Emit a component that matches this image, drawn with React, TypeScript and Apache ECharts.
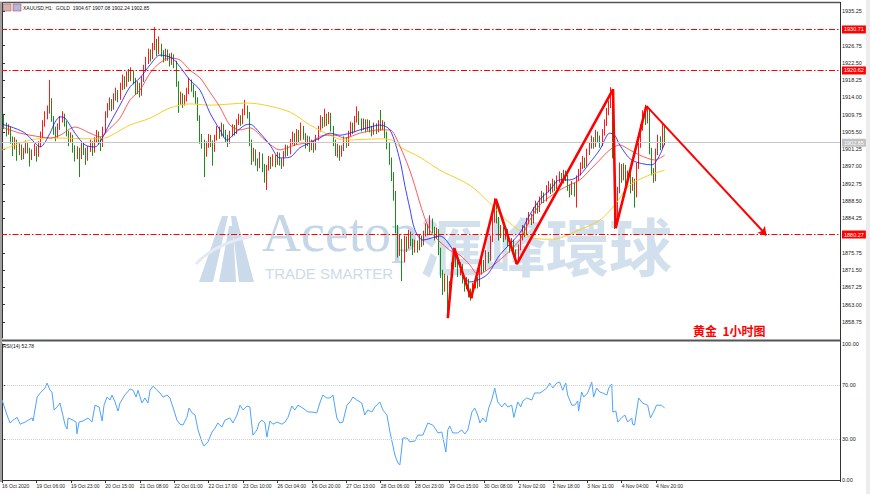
import React, { useEffect, useRef } from 'react';
import * as echarts from 'echarts';

const timeLabels = ['16 Oct 2020', '19 Oct 06:00', '19 Oct 23:00', '20 Oct 15:00', '21 Oct 08:00', '22 Oct 01:00', '22 Oct 17:00', '23 Oct 10:00', '26 Oct 04:00', '26 Oct 20:00', '27 Oct 13:00', '28 Oct 06:00', '28 Oct 23:00', '29 Oct 15:00', '30 Oct 08:00', '2 Nov 02:00', '2 Nov 18:00', '3 Nov 11:00', '4 Nov 04:00', '4 Nov 20:00'];

// [open, close, low, high]
const candles: number[][] = [
[1910.0,1908.5,1907.6,1913.4],[1908.5,1907.0,1906.2,1909.8],[1907.0,1905.5,1904.4,1907.8],[1905.5,1906.2,1904.8,1907.4],[1906.2,1903.8,1902.6,1906.8],
[1903.8,1902.0,1899.6,1904.4],[1902.0,1903.0,1901.2,1904.2],[1903.0,1900.5,1898.4,1903.6],[1900.5,1901.8,1899.8,1902.8],[1901.8,1899.5,1898.6,1902.4],
[1899.5,1900.8,1898.8,1901.6],[1900.8,1902.2,1900.2,1903.4],[1902.2,1901.0,1900.2,1902.8],[1901.0,1899.2,1897.0,1901.6],[1899.2,1900.4,1898.6,1901.2],
[1900.4,1901.5,1899.6,1902.6],[1901.5,1900.0,1898.2,1902.0],[1900.0,1902.5,1899.4,1903.2],[1902.5,1904.8,1901.8,1905.6],[1904.8,1907.5,1904.0,1908.4],
[1907.5,1909.5,1906.8,1910.6],[1909.5,1911.0,1908.6,1912.0],[1911.0,1913.2,1910.0,1918.3],[1913.2,1908.8,1908.0,1913.8],[1908.8,1906.0,1904.8,1909.4],
[1906.0,1904.5,1903.2,1906.8],[1904.5,1906.8,1904.0,1907.6],[1906.8,1908.6,1906.0,1909.4],[1908.6,1909.4,1907.8,1910.6],[1909.4,1907.6,1906.8,1910.0],
[1907.6,1905.2,1904.4,1908.2],[1905.2,1903.4,1902.0,1905.8],[1903.4,1904.2,1902.8,1905.4],[1904.2,1901.5,1900.4,1904.8],[1901.5,1899.8,1898.2,1902.2],
[1899.8,1901.0,1898.8,1902.0],[1901.0,1899.5,1894.4,1901.6],[1899.5,1902.0,1898.8,1902.8],[1902.0,1901.0,1899.8,1903.0],[1901.0,1899.0,1897.4,1901.6],
[1899.0,1901.2,1898.4,1902.0],[1901.2,1902.6,1900.6,1903.6],[1902.6,1901.0,1899.6,1903.2],[1901.0,1903.4,1900.4,1904.2],[1903.4,1905.0,1902.8,1906.0],
[1905.0,1903.6,1902.4,1905.6],[1903.6,1902.4,1900.8,1904.2],[1902.4,1906.0,1901.8,1906.8],[1906.0,1909.8,1905.2,1910.6],[1909.8,1911.6,1909.0,1912.6],
[1911.6,1913.0,1910.8,1914.0],[1913.0,1911.8,1910.6,1913.6],[1911.8,1914.0,1911.0,1915.0],[1914.0,1915.2,1913.2,1916.4],[1915.2,1914.0,1912.8,1915.8],
[1914.0,1916.6,1913.4,1917.6],[1916.6,1918.6,1915.8,1919.6],[1918.6,1917.2,1916.0,1919.2],[1917.2,1919.4,1916.6,1920.4],[1919.4,1918.8,1917.8,1921.0],
[1918.8,1920.0,1918.0,1921.4],[1920.0,1918.2,1917.2,1920.6],[1918.2,1915.8,1914.6,1918.8],[1915.8,1917.0,1914.8,1918.0],[1917.0,1915.0,1914.0,1917.6],
[1915.0,1918.5,1914.4,1919.2],[1918.5,1921.2,1917.8,1922.0],[1921.2,1923.0,1920.4,1924.0],[1923.0,1925.0,1922.2,1926.0],[1925.0,1924.0,1922.8,1925.8],
[1924.0,1926.4,1923.4,1927.4],[1926.4,1927.6,1925.6,1931.3],[1927.6,1925.2,1924.2,1928.4],[1925.2,1926.5,1924.6,1929.0],[1926.5,1925.0,1924.0,1927.2],
[1925.0,1923.8,1922.6,1925.6],[1923.8,1925.0,1923.0,1926.0],[1925.0,1924.2,1923.0,1925.8],[1924.2,1922.8,1921.6,1924.8],[1922.8,1924.0,1922.0,1925.0],
[1924.0,1922.4,1921.2,1924.6],[1922.4,1917.5,1916.6,1923.0],[1917.5,1913.0,1910.2,1918.0],[1913.0,1914.4,1912.2,1915.4],[1914.4,1912.8,1911.4,1915.0],
[1912.8,1913.6,1912.0,1914.6],[1913.6,1915.4,1913.0,1916.4],[1915.4,1917.6,1914.8,1918.8],[1917.6,1916.6,1915.4,1918.4],[1916.6,1915.0,1914.0,1917.2],
[1915.0,1913.5,1912.4,1915.6],[1913.5,1909.0,1908.2,1914.0],[1909.0,1904.0,1902.6,1909.6],[1904.0,1903.0,1901.4,1905.0],[1903.0,1900.2,1894.4,1903.6],
[1900.2,1902.4,1899.4,1903.2],[1902.4,1904.2,1901.6,1905.0],[1904.2,1903.0,1901.8,1904.8],[1903.0,1901.2,1897.2,1903.4],[1901.2,1904.0,1900.6,1904.8],
[1904.0,1906.2,1903.4,1907.0],[1906.2,1905.0,1903.8,1906.8],[1905.0,1906.8,1904.4,1907.8],[1906.8,1905.4,1904.2,1907.4],[1905.4,1904.2,1903.0,1906.0],
[1904.2,1903.2,1901.8,1904.8],[1903.2,1905.0,1902.6,1905.8],[1905.0,1906.6,1904.4,1907.4],[1906.6,1905.6,1904.6,1907.2],[1905.6,1907.8,1905.0,1908.6],
[1907.8,1909.0,1907.2,1910.0],[1909.0,1908.0,1907.0,1909.6],[1908.0,1910.4,1907.4,1911.2],[1910.4,1911.4,1909.6,1913.4],[1911.4,1909.8,1908.8,1912.0],
[1909.8,1903.0,1902.0,1910.4],[1903.0,1899.0,1897.4,1903.6],[1899.0,1900.6,1898.2,1901.6],[1900.6,1898.4,1897.2,1901.2],[1898.4,1897.2,1895.8,1899.0],
[1897.2,1899.6,1896.6,1900.6],[1899.6,1897.0,1895.6,1900.2],[1897.0,1894.8,1893.0,1897.6],[1894.8,1896.6,1891.2,1897.4],[1896.6,1898.8,1896.0,1899.6],
[1898.8,1897.6,1896.4,1899.4],[1897.6,1899.2,1897.0,1900.0],[1899.2,1898.0,1896.8,1899.8],[1898.0,1899.8,1897.4,1900.6],[1899.8,1898.4,1897.2,1900.4],
[1898.4,1897.6,1896.4,1899.0],[1897.6,1900.0,1897.0,1900.8],[1900.0,1901.6,1899.4,1902.4],[1901.6,1900.6,1899.6,1902.2],[1900.6,1903.0,1900.0,1903.8],
[1903.0,1904.6,1902.4,1905.6],[1904.6,1903.0,1902.0,1905.2],[1903.0,1905.4,1902.4,1906.2],[1905.4,1904.0,1903.0,1906.0],[1904.0,1906.4,1903.4,1907.8],
[1906.4,1904.6,1903.6,1907.0],[1904.6,1902.6,1901.4,1905.2],[1902.6,1903.8,1902.0,1904.6],[1903.8,1901.8,1900.6,1904.4],[1901.8,1902.8,1901.0,1903.6],
[1902.8,1901.6,1900.4,1903.4],[1901.6,1904.0,1901.0,1904.8],[1904.0,1906.2,1903.4,1907.0],[1906.2,1908.6,1905.6,1909.6],[1908.6,1907.4,1906.4,1909.2],
[1907.4,1909.4,1906.8,1911.2],[1909.4,1908.0,1907.0,1910.0],[1908.0,1909.6,1907.4,1910.4],[1909.6,1906.4,1905.6,1910.2],[1906.4,1903.0,1902.0,1907.0],
[1903.0,1900.8,1899.6,1903.6],[1900.8,1901.6,1899.2,1902.6],[1901.6,1900.0,1898.4,1902.2],[1900.0,1901.4,1899.4,1902.2],[1901.4,1903.6,1900.8,1904.4],
[1903.6,1902.6,1901.6,1904.2],[1902.6,1905.0,1902.0,1905.8],[1905.0,1907.2,1904.4,1908.0],[1907.2,1906.0,1905.0,1907.8],[1906.0,1908.6,1905.4,1909.4],
[1908.6,1910.0,1907.8,1911.8],[1910.0,1908.2,1907.2,1910.6],[1908.2,1906.6,1905.6,1908.8],[1906.6,1908.0,1906.0,1908.8],[1908.0,1906.4,1905.4,1908.6],
[1906.4,1907.8,1905.8,1908.6],[1907.8,1906.4,1905.4,1908.4],[1906.4,1905.4,1904.4,1907.0],[1905.4,1907.0,1904.8,1907.8],[1907.0,1906.0,1905.0,1907.6],
[1906.0,1907.6,1905.4,1908.4],[1907.6,1906.8,1905.8,1910.9],[1906.8,1907.6,1906.0,1908.4],[1907.6,1905.0,1904.0,1908.0],[1905.0,1902.4,1901.2,1905.6],
[1902.4,1898.6,1897.4,1903.0],[1898.6,1895.0,1893.4,1899.2],[1895.0,1890.5,1888.6,1895.6],[1890.5,1882.0,1880.6,1891.0],[1882.0,1876.5,1874.6,1882.6],
[1876.5,1878.5,1875.0,1880.4],[1878.5,1874.0,1868.8,1879.2],[1874.0,1879.0,1873.4,1880.0],[1879.0,1877.4,1876.0,1879.8],[1877.4,1880.4,1876.8,1881.4],
[1880.4,1878.6,1877.4,1881.0],[1878.6,1876.4,1875.2,1879.2],[1876.4,1878.0,1875.8,1879.0],[1878.0,1877.0,1875.8,1878.8],[1877.0,1879.4,1876.4,1880.2],
[1879.4,1878.2,1877.2,1880.0],[1878.2,1880.4,1877.6,1881.2],[1880.4,1882.0,1879.8,1883.0],[1882.0,1881.0,1880.0,1882.8],[1881.0,1883.6,1880.4,1885.0],
[1883.6,1881.6,1880.6,1884.2],[1881.6,1880.0,1878.8,1882.2],[1880.0,1881.0,1879.2,1882.0],[1881.0,1876.4,1875.2,1881.6],[1876.4,1871.0,1869.6,1877.0],
[1871.0,1867.0,1865.4,1871.6],[1867.0,1869.6,1866.2,1870.6],[1869.6,1863.0,1859.7,1870.2],[1863.0,1868.0,1862.4,1868.8],[1868.0,1872.5,1867.4,1873.4],
[1872.5,1875.8,1871.8,1877.0],[1875.8,1873.4,1872.2,1876.4],[1873.4,1871.0,1869.8,1874.0],[1871.0,1872.4,1870.2,1873.4],[1872.4,1869.4,1868.2,1873.0],
[1869.4,1867.6,1866.2,1870.0],[1867.6,1868.8,1866.8,1869.8],[1868.8,1866.0,1864.8,1869.4],[1866.0,1865.2,1864.0,1867.0],[1865.2,1867.6,1864.6,1868.4],
[1867.6,1869.0,1867.0,1870.0],[1869.0,1868.0,1867.0,1869.8],[1868.0,1871.0,1867.4,1872.0],[1871.0,1873.4,1870.4,1874.4],[1873.4,1872.0,1871.0,1874.0],
[1872.0,1875.4,1871.4,1876.4],[1875.4,1874.4,1873.2,1876.0],[1874.4,1879.0,1873.8,1880.0],[1879.0,1884.0,1878.4,1885.0],[1884.0,1887.6,1883.2,1889.2],
[1887.6,1884.0,1883.0,1888.2],[1884.0,1880.0,1878.8,1884.6],[1880.0,1881.6,1879.4,1882.6],[1881.6,1879.6,1878.4,1882.2],[1879.6,1881.0,1879.0,1882.0],
[1881.0,1878.6,1877.4,1881.6],[1878.6,1877.0,1875.8,1879.2],[1877.0,1878.4,1876.4,1879.4],[1878.4,1876.0,1874.8,1879.0],[1876.0,1874.4,1873.0,1876.6],
[1874.4,1877.0,1873.8,1877.8],[1877.0,1879.4,1876.4,1880.4],[1879.4,1881.6,1878.8,1882.6],[1881.6,1880.6,1879.6,1882.4],[1880.6,1883.4,1880.0,1884.4],
[1883.4,1884.8,1882.8,1885.8],[1884.8,1883.6,1882.6,1885.4],[1883.6,1886.0,1883.0,1887.0],[1886.0,1887.4,1885.4,1888.6],[1887.4,1886.4,1885.4,1888.0],
[1886.4,1888.6,1885.8,1889.6],[1888.6,1890.0,1888.0,1891.0],[1890.0,1889.0,1888.0,1890.6],[1889.0,1891.4,1888.4,1892.4],[1891.4,1892.2,1890.6,1893.4],
[1892.2,1891.2,1890.2,1892.8],[1891.2,1893.0,1890.6,1894.0],[1893.0,1892.0,1891.0,1893.6],[1892.0,1893.8,1891.4,1894.8],[1893.8,1894.8,1893.0,1895.8],
[1894.8,1893.4,1892.4,1895.4],[1893.4,1895.2,1892.8,1896.2],[1895.2,1894.4,1893.4,1896.0],[1894.4,1892.0,1891.0,1895.0],[1892.0,1890.6,1889.4,1892.6],
[1890.6,1892.4,1890.0,1893.4],[1892.4,1890.8,1889.6,1893.0],[1890.8,1894.0,1886.9,1894.8],[1894.0,1895.4,1893.4,1896.4],[1895.4,1897.0,1894.8,1898.0],
[1897.0,1898.6,1896.4,1899.6],[1898.6,1897.6,1896.6,1899.2],[1897.6,1900.4,1897.0,1901.4],[1900.4,1902.0,1899.8,1903.0],[1902.0,1903.6,1901.4,1904.6],
[1903.6,1902.4,1901.4,1904.2],[1902.4,1905.0,1901.8,1906.0],[1905.0,1904.0,1903.0,1905.6],[1904.0,1902.6,1901.6,1904.6],[1902.6,1905.2,1902.0,1906.2],
[1905.2,1907.6,1904.6,1908.6],[1907.6,1910.4,1907.0,1911.4],[1910.4,1912.0,1909.6,1913.2],[1912.0,1914.6,1911.4,1916.5],[1914.6,1900.0,1899.0,1915.4],
[1900.0,1885.0,1881.6,1900.6],[1885.0,1891.0,1884.4,1892.0],[1891.0,1897.0,1890.4,1898.0],[1897.0,1894.2,1893.0,1897.6],[1894.2,1896.8,1893.6,1897.8],
[1896.8,1893.6,1892.4,1897.4],[1893.6,1895.0,1892.8,1896.0],[1895.0,1891.6,1890.4,1895.6],[1891.6,1893.4,1891.0,1894.4],[1893.4,1890.0,1886.9,1894.0],
[1890.0,1897.0,1889.4,1898.0],[1897.0,1902.2,1896.4,1903.2],[1902.2,1906.4,1901.6,1907.4],[1906.4,1909.6,1905.8,1910.8],[1909.6,1908.2,1907.2,1912.2],
[1908.2,1910.4,1907.6,1911.4],[1910.4,1901.0,1900.0,1911.0],[1901.0,1896.0,1894.8,1901.6],[1896.0,1894.0,1893.0,1896.6],[1894.0,1900.4,1893.4,1901.4],
[1900.4,1903.8,1899.8,1904.8],[1903.8,1902.0,1901.0,1904.4],[1902.0,1904.6,1901.4,1907.6],[1904.67,1902.85,1902.24,1907.08]
];

// moving averages: [bar index, price]
const maFast: number[][] = [
[0,1907.4],[6,1906.4],[10.7,1905.2],[15.3,1902.8],[17.7,1901.8],[22.3,1905.2],[24.6,1907.9],[27,1909.2],[29.3,1908.9],[33.9,1905.2],
[38.6,1902.3],[43.2,1901.8],[45.5,1903.0],[50.2,1907.7],[54.8,1912.1],[59.5,1916.6],[64.1,1918.8],[68.8,1922.0],[73.4,1924.4],[79,1923.7],
[82.7,1921.5],[87.3,1918.3],[92,1915.8],[96.6,1910.2],[101.3,1906.0],[104.5,1903.5],[108.2,1905.2],[112.9,1907.2],[115.2,1907.4],[119.9,1905.2],
[124.5,1902.3],[129.2,1899.1],[133.8,1899.3],[138.4,1901.6],[143.1,1902.8],[147.7,1904.0],[152.4,1905.2],[157,1904.7],[161.7,1905.2],[166.3,1906.0],
[171,1906.7],[175.6,1907.2],[180.3,1906.0],[184.9,1898.6],[187.2,1892.4],[189.5,1886.8],[191.9,1881.4],[195.6,1878.9],[203.5,1879.9],[209.5,1876.5],
[217.4,1868.6],[225.3,1870.3],[231.3,1875.2],[240.6,1880.6],[245.3,1885.1],[249.9,1888.8],[254.6,1891.2],[259.2,1893.7],[263.9,1893.7],[268.5,1894.9],
[273.2,1897.9],[277.8,1901.1],[282.5,1905.2],[284.8,1904.7],[287.1,1902.3],[292.7,1898.6],[302,1897.4],[305.7,1899.8],[308,1902.8]
];
const maMid: number[][] = [
[0,1906.7],[8.4,1905.2],[17.7,1904.3],[22.3,1904.0],[27,1904.7],[33.9,1906.7],[40.9,1905.2],[45.5,1904.3],[50.2,1906.4],[54.8,1908.9],
[59.5,1913.4],[64.1,1915.8],[68.8,1920.0],[73.4,1922.5],[78,1923.7],[82.7,1923.2],[87.3,1920.7],[92,1918.8],[96.6,1915.3],[101.3,1911.6],
[105.9,1907.2],[110.6,1906.0],[115.2,1906.5],[122.2,1903.5],[129.2,1901.1],[136.1,1902.3],[143.1,1903.0],[150,1904.7],[154.7,1904.7],[159.3,1904.0],
[166.3,1905.2],[175.6,1906.0],[180.3,1906.0],[182.6,1904.7],[189.5,1896.1],[198.8,1881.4],[208.1,1876.4],[212.8,1875.2],[217.4,1872.8],[221.1,1870.5],
[231.3,1874.0],[240.6,1878.9],[245.3,1883.8],[249.9,1887.5],[259.2,1891.2],[268.5,1893.7],[273.2,1896.1],[277.8,1898.6],[282.5,1901.1],[287.1,1902.3],
[291.7,1901.1],[296.4,1899.8],[303.4,1898.6],[308,1899.8]
];
const maSlow: number[][] = [
[0,1901.1],[13,1903.5],[22.3,1904.0],[45.5,1903.8],[59.5,1907.2],[68.8,1908.9],[78,1911.4],[87.3,1912.4],[96.6,1912.1],[114.3,1912.6],
[122.2,1912.1],[133.8,1910.4],[143.1,1907.2],[152.4,1904.7],[159.3,1903.5],[175.6,1903.8],[181.2,1903.5],[184.9,1901.8],[194.2,1899.3],[203.5,1896.1],
[217.4,1892.4],[226.7,1888.0],[236,1883.1],[246.7,1879.4],[256,1879.1],[267,1881.1],[277.8,1883.8],[284.8,1887.5],[291.7,1892.4],[301,1894.9],
[308,1896.1]
];

// RSI(14): [bar index, value]
const rsi: number[][] = [
[0,58.8],[2.3,47.8],[3.7,41.9],[5.1,44],[7,46],[8.4,41],[10.7,42.6],[13.9,45.6],[14.4,43.4],[16.3,61],[17.7,64],[20,67.6],[20.9,71.3],[22.3,66],
[23.2,64.7],[24.2,51.5],[25.6,53.7],[26.9,56.6],[27.9,50],[29.3,40.4],[30.2,37.5],[30.7,45.6],[33,44],[34.4,42.6],[34.8,34],[35.8,42.6],[37.6,43.4],
[40,45.6],[41.8,42.6],[43.2,55],[45.1,53.7],[46.5,43.4],[47.4,55],[48.8,61],[50.2,58.8],[51.1,62.5],[52.5,57.4],[53.9,50.7],[54.8,56.6],[57.1,62.5],
[59.5,66.9],[60.9,66],[62.3,61],[63.2,66],[65,56.6],[66.4,60.3],[67.8,56.6],[68.8,66],[70.2,69],[72,66],[73.4,64],[74.8,61],[76.7,62.5],[78,60.3],
[79.4,53.7],[81.3,44],[82.7,41],[84.1,40.4],[85.9,46],[86.9,52.9],[88.3,49.3],[89.7,47.8],[91.1,36.8],[92.9,28],[93.8,25],[95.7,28],[97.6,35.3],
[99,38.2],[100.3,41.9],[102.2,39],[103.6,44],[105.9,45.6],[107.3,41.9],[109.2,47.8],[110.6,55],[112,51.5],[113.8,54.4],[115.2,53.7],[116.6,33],
[118.5,36.8],[119.4,41.9],[120.8,44],[122.2,41.9],[123.1,31.6],[124.5,43.4],[125.9,41],[127.8,42.6],[130.1,41],[131.5,42.6],[132.9,46],[134.7,54.4],
[136.1,51.5],[137.5,55],[139.8,52.9],[142.2,50],[144,50],[146.3,49.3],[147.7,56.6],[149.1,62.5],[151,60.3],[152.4,60.3],[153.8,62.5],[155.6,45.6],
[157,41.9],[158.4,42.6],[160.3,55],[161.7,57.4],[163.1,61],[164.9,58.8],[167.2,56.6],[168.6,47.8],[170,51.5],[171.9,50],[173.3,53.7],[175.6,57.4],
[177,51.5],[178.9,47.8],[180.3,35.3],[182.6,18.4],[184,12.5],[184.9,11],[186.3,30.9],[188.2,30.9],[189.5,28],[191.9,28.7],[193.3,33],[195.6,33],
[197.9,41.9],[200.2,40.4],[201.2,38.2],[202.6,34.6],[204.4,35.3],[206.3,20.6],[207.2,36.8],[208.1,39.7],[209.5,34.6],[211.8,34.6],[213.7,36.8],
[215.1,33.8],[216.5,36.8],[218.4,50],[219.7,52.9],[221.1,47.8],[222.1,41.9],[223.5,45.6],[224.9,42.6],[226.2,52.9],[227.6,58.8],[229,67.6],[230.4,57.4],
[232.3,53.7],[233.7,56.6],[235.1,53.7],[236.9,55],[237.9,46],[239.7,57.4],[241.1,53.7],[242.1,58.1],[243.9,60.3],[246.2,58.8],[247.6,64],[250,64],
[251.4,65.4],[253.2,67.6],[254.6,71.3],[256,67.6],[257.8,71.3],[259.2,72],[260.6,66],[262,71.3],[262.9,62.5],[264.8,55],[266.2,55],[267.6,58.1],
[268,50.7],[269.4,64.7],[270.4,61],[272.2,64],[272.7,66],[274.1,72],[275,61],[276.4,67.6],[277.8,64.7],[279.2,64],[281.1,62.5],[282,67.6],[283.4,70.6],
[283.9,50],[285.3,50.7],[286.2,42.6],[288.1,46],[289.5,47.8],[290.8,42.6],[292.7,45.6],[293.1,41],[294,40.4],[295.9,60.3],[297.7,56.6],[300.1,55],
[301.4,45.6],[303.3,51.5],[304.2,55],[306.6,55],[308,52.78]
];

// hand-drawn zigzag: [bar index, price]
const zigzag: number[][] = [[207.2,1859.7],[210.2,1876.9],[218.0,1864.6],[229.5,1889.0],[239.3,1873.0],[284.0,1916.0],[285.2,1881.8],[299.5,1911.9]];
const arrowEnd = [355.3, 1880.1];

const levels = [1930.71, 1920.62, 1880.27];
const bid = 1902.85;
const priceTicks = [1858.75, 1863.0, 1867.25, 1871.5, 1875.75, 1884.25, 1888.5, 1892.75, 1897.0, 1901.25, 1905.5, 1909.75, 1914.0, 1918.25, 1922.5, 1926.75, 1935.25];
const rsiTicks = [0, 30, 70, 100];
const rsiLevels = [30, 70];
const SLOTS = 390;
const LABEL_STEP = 16;

export default function App() {
  const ref = useRef<HTMLDivElement>(null);
  useEffect(() => {
    document.body.style.margin = '0';
    const chart = echarts.init(ref.current as HTMLDivElement, null, { renderer: 'svg' });
    const slots = Array.from({ length: SLOTS }, (_, i) => String(i));
    const showAt = (i: number) => i % LABEL_STEP === 0 && i / LABEL_STEP < timeLabels.length;
    const fontAxis = 'Liberation Sans, Arial, sans-serif';
    const wm = '#cadaea';
    const levelLine = (v: number) => ({
      yAxis: v,
      lineStyle: { color: '#ff0000', width: 1, type: [6, 2, 1.5, 2] },
      label: { show: true, position: 'end', distance: 2, formatter: v.toFixed(2), color: '#fff', backgroundColor: '#ff0000', fontSize: 5.5, fontFamily: fontAxis, padding: [1, 2, 1, 2] },
    });
    const option: any = {
      animation: false,
      backgroundColor: '#ffffff',
      grid: [
        { left: 1, right: 30, top: 3, height: 335, outerBoundsMode: 'none' },
        { left: 1, right: 30, top: 344, height: 136, outerBoundsMode: 'none' },
      ],
      xAxis: [
        { type: 'category', gridIndex: 0, data: slots, show: false, boundaryGap: true, position: 'bottom' },
        { type: 'value', gridIndex: 0, min: -0.5, max: SLOTS - 0.5, show: false, position: 'top' },
        {
          type: 'category', gridIndex: 1, data: slots, boundaryGap: true, position: 'bottom', offset: 1,
          axisLine: { show: true, lineStyle: { color: '#333', width: 1 } },
          axisTick: { show: true, alignWithLabel: true, interval: (i: number) => showAt(i), length: 3, lineStyle: { color: '#333' } },
          axisLabel: {
            interval: (i: number) => showAt(i),
            formatter: (v: string) => { const i = Number(v); return showAt(i) ? timeLabels[i / LABEL_STEP] : ''; },
            align: 'left', fontSize: 5, color: '#222', margin: 2, fontFamily: fontAxis,
          },
          splitLine: { show: false },
        },
        { type: 'value', gridIndex: 1, min: -0.5, max: SLOTS - 0.5, show: false, position: 'top' },
      ],
      yAxis: [
        {
          type: 'value', gridIndex: 0, position: 'right', min: 1854.81, max: 1937.22, scale: true,
          splitLine: { show: false },
          axisLine: { show: true, lineStyle: { color: '#333' } },
          axisTick: { show: true, customValues: priceTicks, length: 3, lineStyle: { color: '#333' } },
          axisLabel: { customValues: priceTicks, formatter: (v: number) => v.toFixed(2), fontSize: 5.5, color: '#222', margin: 2, fontFamily: fontAxis },
        },
        {
          type: 'value', gridIndex: 1, position: 'right', min: 0, max: 100,
          splitLine: { show: false },
          axisLine: { show: true, lineStyle: { color: '#333' } },
          axisTick: { show: true, customValues: rsiTicks, length: 3, lineStyle: { color: '#333' } },
          axisLabel: { customValues: rsiTicks, formatter: (v: number) => v.toFixed(2), fontSize: 5.5, color: '#222', margin: 2, fontFamily: fontAxis },
        },
      ],
      graphic: [
        { type: 'rect', shape: { x: 866, y: 0, width: 4, height: 494 }, style: { fill: '#ececec' }, silent: true },
        // watermark
        {
          type: 'group', silent: true, children: [
            { type: 'polygon', shape: { points: [[199, 282], [222, 216], [228, 216], [213, 282]] }, style: { fill: wm } },
            { type: 'polygon', shape: { points: [[219, 282], [229, 226], [233, 226], [236, 282]] }, style: { fill: wm } },
            { type: 'polygon', shape: { points: [[239, 282], [231, 216], [236, 216], [254, 282]] }, style: { fill: wm } },
            { type: 'bezierCurve', shape: { x1: 196, y1: 264, x2: 252, y2: 236, cpx1: 214, cpy1: 244 }, style: { stroke: '#e2ebf4', lineWidth: 3, fill: 'none' } },
            { type: 'text', x: 262, y: 206, style: { text: 'Acetop', fontSize: 54, fontFamily: 'Liberation Serif, serif', fill: '#c4d6e8', verticalAlign: 'top' } },
            { type: 'text', x: 265, y: 266, style: { text: 'TRADE SMARTER', fontSize: 15, fontFamily: 'Liberation Sans, sans-serif', fill: '#ccdbe8', verticalAlign: 'top' } },
            { type: 'text', x: 420, y: 212, style: { text: '滙峰環球', fontSize: 63, fontWeight: 'bold', fontFamily: 'Noto Sans CJK TC, sans-serif', fill: '#d2e0ee', verticalAlign: 'top' } },
          ],
        },
        // borders
        { type: 'line', shape: { x1: 0, y1: 2.5, x2: 840.5, y2: 2.5 }, style: { stroke: '#555', lineWidth: 1.5 }, silent: true, z: 10 },
        { type: 'line', shape: { x1: 0, y1: 340.5, x2: 840.5, y2: 340.5 }, style: { stroke: '#555', lineWidth: 2 }, silent: true, z: 10 },
        { type: 'line', shape: { x1: 1, y1: 2, x2: 1, y2: 482 }, style: { stroke: '#a0a0a0', lineWidth: 2 }, silent: true, z: 10 },
        { type: 'line', shape: { x1: 840.5, y1: 2, x2: 840.5, y2: 482 }, style: { stroke: '#333', lineWidth: 1 }, silent: true, z: 10 },
        // header
        { type: 'rect', shape: { x: 3, y: 4, width: 8, height: 7 }, style: { fill: '#d8b0b0', stroke: '#b06060', lineWidth: 0.6 }, silent: true, z: 10 },
        { type: 'rect', shape: { x: 13, y: 4, width: 8, height: 7 }, style: { fill: '#b0b8e0', stroke: '#d04040', lineWidth: 0.6 }, silent: true, z: 10 },
        { type: 'text', x: 23, y: 5, z: 10, style: { text: 'XAUUSD,H1:  GOLD  1904.67 1907.08 1902.24 1902.85', fontSize: 5, fontFamily: fontAxis, fill: '#111', verticalAlign: 'top' } },
        { type: 'text', x: 3, y: 343, z: 10, style: { text: 'RSI(14) 52.78', fontSize: 5, fontFamily: fontAxis, fill: '#111', verticalAlign: 'top' } },
        { type: 'text', x: 693, y: 324, z: 10, style: { text: '黄金  1小时图', fontSize: 12, fontWeight: 'bold', fontFamily: 'Noto Sans CJK SC, sans-serif', fill: '#ff0000', verticalAlign: 'top' } },
      ],
      series: [
        {
          type: 'candlestick', xAxisIndex: 0, yAxisIndex: 0, data: candles, barWidth: 1,
          itemStyle: { color: '#ff0000', color0: '#008000', borderColor: '#ff0000', borderColor0: '#008000', borderWidth: 0.9 },
          markLine: {
            silent: true, symbol: ['none', 'none'], animation: false,
            data: [
              ...levels.map(levelLine),
              {
                yAxis: bid,
                lineStyle: { color: '#c8c8c8', width: 1, type: 'solid' },
                label: { show: true, position: 'end', distance: 2, formatter: bid.toFixed(2), color: '#fff', backgroundColor: '#c0c0c0', fontSize: 5.5, fontFamily: fontAxis, padding: [1, 2, 1, 2] },
              },
            ],
          },
        },
        { type: 'line', xAxisIndex: 1, yAxisIndex: 0, data: maSlow, symbol: 'none', smooth: 0.3, lineStyle: { color: '#f5d02a', width: 1 } },
        { type: 'line', xAxisIndex: 1, yAxisIndex: 0, data: maMid, symbol: 'none', smooth: 0.3, lineStyle: { color: '#ff3030', width: 0.8 } },
        { type: 'line', xAxisIndex: 1, yAxisIndex: 0, data: maFast, symbol: 'none', smooth: 0.3, lineStyle: { color: '#1010ff', width: 0.8 } },
        {
          type: 'line', xAxisIndex: 1, yAxisIndex: 0, data: zigzag, symbol: 'none', lineStyle: { color: '#ff0000', width: 2.6 }, z: 5,
          markLine: {
            silent: true, symbol: ['none', 'arrow'], symbolSize: 8, animation: false,
            label: { show: false },
            lineStyle: { color: '#ff0000', width: 2, type: 'solid' },
            data: [[{ coord: zigzag[zigzag.length - 1] }, { coord: arrowEnd }]],
          },
        },
        {
          type: 'line', xAxisIndex: 3, yAxisIndex: 1, data: rsi, symbol: 'none', lineStyle: { color: '#4da3ff', width: 1 },
          markLine: {
            silent: true, symbol: ['none', 'none'], animation: false, label: { show: false },
            lineStyle: { color: '#cfcfcf', width: 1, type: 'dotted' },
            data: rsiLevels.map((v) => ({ yAxis: v })),
          },
        },
      ],
    };
    chart.setOption(option);
    return () => chart.dispose();
  }, []);
  return <div ref={ref} style={{ position: 'fixed', left: 0, top: 0, width: 870, height: 494 }} />;
}
